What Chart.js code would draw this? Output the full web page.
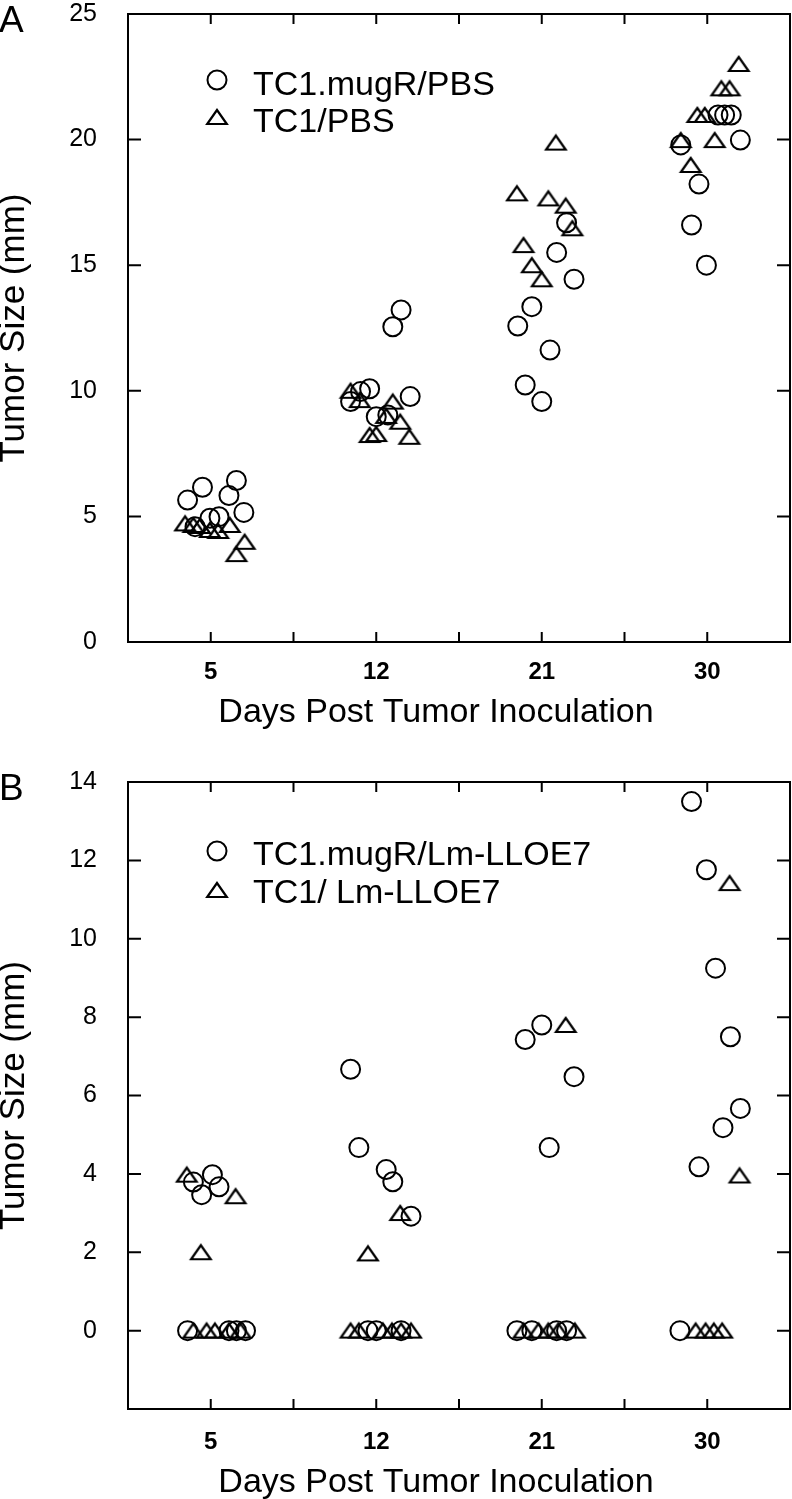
<!DOCTYPE html>
<html>
<head>
<meta charset="utf-8">
<script src="https://cdn.jsdelivr.net/npm/chart.js@4.4.0/dist/chart.umd.min.js"></script>
<style>
  body { margin: 0; background: #fff; }
  canvas { display: block; }
</style>
</head>
<body>
<canvas id="chartA" width="792" height="735"></canvas>
<canvas id="chartB" width="792" height="764"></canvas>
<script>
// Days on the x axis (placed at 1, 3, 5, 7 of a 0-8 axis, points jittered around them)
const dayLabels = ['5', '12', '21', '30'];
const dayPositions = [1, 3, 5, 7];

// Panel A - TC1.mugR/PBS (circles)
const mugrPbsX = [0.72, 0.90, 1.31, 1.22, 1.40, 0.81, 0.99, 1.10,
                  2.69, 2.81, 2.92, 3.00, 3.14, 3.20, 3.30, 3.41,
                  5.30, 5.18, 5.39, 4.88, 4.71, 5.10, 4.80, 5.00,
                  7.13, 7.21, 7.29, 6.68, 7.40, 6.90, 6.81, 6.99];
const mugrPbsY = [5.65, 6.16, 6.43, 5.83, 5.16, 4.59, 4.93, 4.99,
                  9.57, 9.97, 10.08, 8.97, 9.04, 12.55, 13.22, 9.77,
                  16.69, 15.51, 14.44, 13.35, 12.58, 11.62, 10.23, 9.57,
                  20.98, 20.98, 20.98, 19.79, 19.98, 18.23, 16.60, 15.00];

// Panel A - TC1/PBS (triangles)
const tc1PbsX = [0.69, 0.79, 0.87, 0.99, 1.09, 1.23, 1.41, 1.31,
                 2.69, 2.80, 3.20, 3.12, 3.29, 2.92, 3.00, 3.40,
                 5.17, 4.70, 5.08, 5.29, 5.37, 4.78, 4.88, 5.00,
                 7.38, 7.17, 7.27, 6.88, 6.97, 6.68, 7.09, 6.80];
const tc1PbsY = [4.72, 4.66, 4.62, 4.46, 4.42, 4.66, 3.99, 3.50,
                 10.00, 9.63, 9.57, 9.00, 8.77, 8.24, 8.28, 8.17,
                 19.88, 17.86, 17.66, 17.37, 16.47, 15.80, 15.00, 14.44,
                 23.01, 22.04, 22.04, 20.98, 20.98, 19.98, 19.98, 18.99];

// Panel B - TC1.mugR/Lm-LLOE7 (circles)
const mugrLmX = [0.79, 1.02, 0.89, 1.10, 0.72, 1.22, 1.31, 1.42,
                 2.69, 2.79, 3.12, 3.20, 3.42, 2.90, 3.00, 3.30,
                 4.80, 5.00, 5.39, 5.09, 4.70, 4.88, 5.18, 5.30,
                 6.81, 6.99, 7.10, 7.28, 7.40, 7.19, 6.90, 6.67];
const mugrLmY = [3.79, 3.98, 3.47, 3.67, 0, 0, 0, 0,
                 6.67, 4.67, 4.11, 3.80, 2.92, 0, 0, 0,
                 7.43, 7.80, 6.48, 4.67, 0, 0, 0, 0,
                 13.50, 11.76, 9.25, 7.50, 5.67, 5.18, 4.18, 0];

// Panel B - TC1/ Lm-LLOE7 (triangles)
const tc1LmX = [0.71, 1.30, 0.88, 0.79, 0.95, 1.05, 1.22, 1.36,
                2.90, 3.29, 2.69, 2.79, 3.08, 3.19, 3.30, 3.42,
                5.29, 4.78, 4.96, 5.08, 5.20, 5.40,
                7.27, 7.39, 6.86, 6.98, 7.08, 7.18];
const tc1LmY = [3.98, 3.43, 2.00, 0, 0, 0, 0, 0,
                1.97, 3.00, 0, 0, 0, 0, 0, 0,
                7.80, 0, 0, 0, 0, 0,
                11.42, 3.96, 0, 0, 0, 0];

const FONT = '"Liberation Sans", Arial, Helvetica, sans-serif';

// hollow triangle marker, a bit wider than equilateral like the original
const triangleImg = document.createElement('canvas');
triangleImg.width = 26;
triangleImg.height = 20;
(function () {
    const c = triangleImg.getContext('2d');
    c.strokeStyle = '#000';
    c.lineWidth = 2.2;
    c.beginPath();
    c.moveTo(13, 3);
    c.lineTo(3.2, 17);
    c.lineTo(22.8, 17);
    c.closePath();
    c.stroke();
})();

function buildPoints(xs, ys) {
    return xs.map((x, i) => ({ x: x, y: ys[i] }));
}

// frame with inward ticks, x title, legend and panel letter
const framePlugin = {
    id: 'frame',
    afterDraw(chart, args, opts) {
        const ctx = chart.ctx;
        const a = chart.chartArea;
        const xs = chart.scales.x, ys = chart.scales.y;
        ctx.save();
        ctx.strokeStyle = '#000';
        ctx.lineWidth = 2;
        ctx.strokeRect(a.left, a.top, a.right - a.left, a.bottom - a.top);
        ctx.beginPath();
        for (let v = 1; v <= 7; v++) {
            const px = xs.getPixelForValue(v);
            ctx.moveTo(px, a.bottom); ctx.lineTo(px, a.bottom - 10);
            ctx.moveTo(px, a.top); ctx.lineTo(px, a.top + 10);
        }
        ys.ticks.forEach(t => {
            const py = ys.getPixelForValue(t.value);
            ctx.moveTo(a.left, py); ctx.lineTo(a.left + 13, py);
            ctx.moveTo(a.right, py); ctx.lineTo(a.right - 13, py);
        });
        ctx.stroke();

        ctx.fillStyle = '#000';
        ctx.textBaseline = 'alphabetic';

        // x axis title (sits a bit left of the plot centre in the original)
        ctx.font = '34px ' + FONT;
        ctx.textAlign = 'center';
        ctx.fillText('Days Post Tumor Inoculation', 436, opts.xTitleY);

        // legend
        const lg = opts.legend;
        ctx.beginPath();
        ctx.arc(lg.x, lg.y1, 9.5, 0, Math.PI * 2);
        ctx.stroke();
        ctx.drawImage(triangleImg, lg.x - 13, lg.y2 - 10);
        ctx.textAlign = 'left';
        ctx.fillText(chart.data.datasets[0].label, lg.textX, lg.base1);
        ctx.fillText(chart.data.datasets[1].label, lg.textX, lg.base2);

        // panel letter
        ctx.font = '37px ' + FONT;
        ctx.fillText(opts.letter, -1, opts.letterY);
        ctx.restore();
    }
};

function makePanel(id, cfg) {
    return new Chart(document.getElementById(id), {
        type: 'scatter',
        data: {
            datasets: [
                {
                    label: cfg.labels[0],
                    data: buildPoints(cfg.circleX, cfg.circleY),
                    pointStyle: 'circle',
                    pointRadius: 9.5,
                    borderWidth: 2,
                    borderColor: '#000',
                    backgroundColor: 'rgba(0,0,0,0)',
                    clip: false
                },
                {
                    label: cfg.labels[1],
                    data: buildPoints(cfg.triX, cfg.triY),
                    pointStyle: triangleImg,
                    pointRadius: 10,
                    borderColor: '#000',
                    backgroundColor: 'rgba(0,0,0,0)',
                    clip: false
                }
            ]
        },
        options: {
            responsive: false,
            animation: false,
            devicePixelRatio: 1,
            layout: { autoPadding: false, padding: { top: cfg.top, right: 2, left: 0, bottom: 0 } },
            scales: {
                x: {
                    type: 'linear',
                    min: 0,
                    max: 8,
                    grid: { display: false },
                    border: { display: false },
                    ticks: {
                        stepSize: 1,
                        autoSkip: false,
                        maxRotation: 0,
                        padding: cfg.xTickPad,
                        color: '#000',
                        font: { family: FONT, size: 24, weight: 'bold' },
                        callback: function (v) {
                            const i = dayPositions.indexOf(v);
                            return i >= 0 ? dayLabels[i] : '';
                        }
                    },
                    title: { display: false },
                    afterFit: function (s) {
                        s.height = cfg.xAxisH;
                        s.paddingLeft = 0;
                        s.paddingRight = 0;
                    }
                },
                y: {
                    min: cfg.yMin,
                    max: cfg.yMax,
                    grid: { display: false },
                    border: { display: false },
                    ticks: {
                        stepSize: cfg.yStep,
                        padding: 23,
                        color: '#000',
                        font: { family: FONT, size: 25 },
                        callback: v => (v < 0 ? '' : v)
                    },
                    title: {
                        display: true,
                        text: 'Tumor Size (mm)',
                        color: '#000',
                        font: { family: FONT, size: 35 },
                        padding: { top: -7, bottom: 0 }
                    },
                    afterFit: function (s) {
                        s.width = 128;
                        s.paddingTop = 0;
                        s.paddingBottom = 0;
                    }
                }
            },
            plugins: {
                legend: { display: false },
                tooltip: { enabled: false },
                frame: cfg.frame
            }
        },
        plugins: [framePlugin]
    });
}

makePanel('chartA', {
    labels: ['TC1.mugR/PBS', 'TC1/PBS'],
    circleX: mugrPbsX, circleY: mugrPbsY,
    triX: tc1PbsX, triY: tc1PbsY,
    yMin: 0, yMax: 25, yStep: 5,
    top: 14, xAxisH: 93, xTickPad: 8,
    frame: {
        letter: 'A', letterY: 32, xTitleY: 722,
        legend: { x: 217, y1: 80, y2: 117, textX: 253, base1: 95, base2: 132 }
    }
});

makePanel('chartB', {
    labels: ['TC1.mugR/Lm-LLOE7', 'TC1/ Lm-LLOE7'],
    circleX: mugrLmX, circleY: mugrLmY,
    triX: tc1LmX, triY: tc1LmY,
    yMin: -2, yMax: 14, yStep: 2,
    top: 47, xAxisH: 90, xTickPad: 11,
    frame: {
        letter: 'B', letterY: 65, xTitleY: 757,
        legend: { x: 217, y1: 116, y2: 155, textX: 253, base1: 130, base2: 168 }
    }
});
</script>
</body>
</html>
